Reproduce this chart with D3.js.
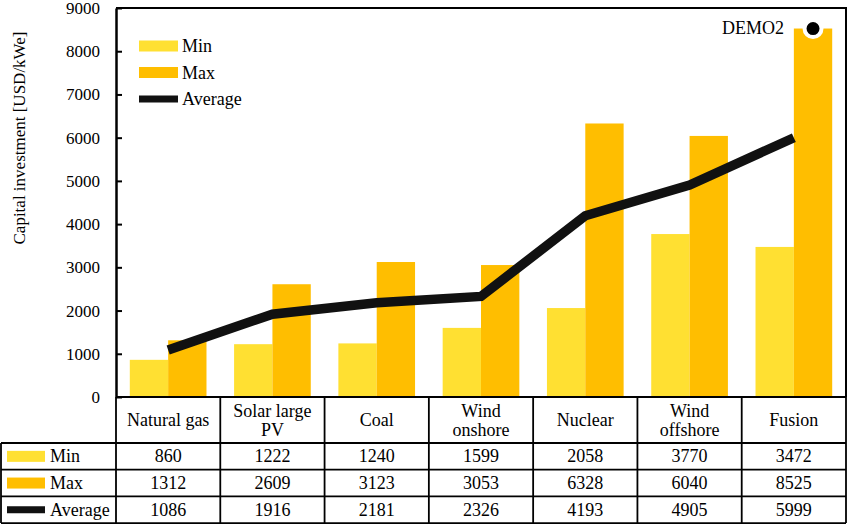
<!DOCTYPE html>
<html>
<head>
<meta charset="utf-8">
<script src="https://cdn.jsdelivr.net/npm/d3@7.9.0/dist/d3.min.js"></script>
<style>
  body { margin: 0; background: #fff; }
  svg { display: block; }
  svg text { font-family: 'Liberation Serif', 'DejaVu Serif', serif; fill: #000; }
</style>
</head>
<body>
<svg id="chart" width="850" height="525"></svg>
<script>
const categories = ['Natural gas', 'Solar large\nPV', 'Coal', 'Wind\nonshore', 'Nuclear', 'Wind\noffshore', 'Fusion'];
const minValues = [860, 1222, 1240, 1599, 2058, 3770, 3472];
const maxValues = [1312, 2609, 3123, 3053, 6328, 6040, 8525];
const avgValues = [1086, 1916, 2181, 2326, 4193, 4905, 5999];
const yTicks = [0, 1000, 2000, 3000, 4000, 5000, 6000, 7000, 8000, 9000];

const colors = { min: '#ffe032', max: '#ffbe00', avg: '#111' };

const svg = d3.select('#chart');
const plotLeft = 116, plotRight = 846, plotTop = 8, plotBottom = 397;
const fs = 18;

const x = d3.scaleBand().domain(d3.range(categories.length)).range([plotLeft, plotRight]);
const xInner = d3.scaleBand().domain(['min', 'max']).range([0, x.bandwidth()]).paddingOuter(0.36);
const y = d3.scaleLinear().domain([0, 9000]).range([plotBottom, plotTop]);

// bars
const groups = svg.append('g').selectAll('g')
  .data(categories.map((c, i) => ({ i, min: minValues[i], max: maxValues[i] })))
  .join('g')
  .attr('transform', (d) => `translate(${x(d.i)},0)`);

groups.selectAll('rect')
  .data((d) => [{ key: 'min', v: d.min }, { key: 'max', v: d.max }])
  .join('rect')
  .attr('x', (d) => xInner(d.key))
  .attr('width', xInner.bandwidth())
  .attr('y', (d) => y(d.v))
  .attr('height', (d) => plotBottom - y(d.v))
  .attr('fill', (d) => colors[d.key]);

// average line
const line = d3.line()
  .x((d, i) => x(i) + x.bandwidth() / 2)
  .y((d) => y(d));

svg.append('path')
  .datum(avgValues)
  .attr('d', line)
  .attr('fill', 'none')
  .attr('stroke', colors.avg)
  .attr('stroke-width', 9.5);

// DEMO2 marker on fusion max
const last = categories.length - 1;
const demoX = x(last) + xInner('max') + xInner.bandwidth() / 2;
svg.append('circle')
  .attr('cx', demoX)
  .attr('cy', y(maxValues[last]))
  .attr('r', 8.5)
  .attr('fill', '#000')
  .attr('stroke', '#fff')
  .attr('stroke-width', 4);

svg.append('text')
  .attr('x', demoX - 29)
  .attr('y', y(maxValues[last]) + 5)
  .attr('text-anchor', 'end')
  .attr('font-size', fs)
  .text('DEMO2');

// y axis
const yAxis = svg.append('g')
  .attr('transform', `translate(${plotLeft},0)`)
  .call(d3.axisLeft(y).tickValues(yTicks).tickFormat(d3.format('d')).tickSize(-6).tickSizeOuter(0).tickPadding(16));
yAxis.attr('font-family', null).attr('font-size', 17);
yAxis.select('.domain').attr('stroke', '#000').attr('stroke-width', 2.5);
yAxis.selectAll('.tick line').attr('stroke', '#000').attr('stroke-width', 2);
yAxis.selectAll('.tick text').attr('fill', '#000');

// frame top and right
svg.append('path')
  .attr('d', `M${plotLeft},${plotTop}H${plotRight}V${plotBottom}`)
  .attr('fill', 'none')
  .attr('stroke', '#000')
  .attr('stroke-width', 2);

svg.append('text')
  .attr('transform', 'translate(25,138) rotate(-90)')
  .attr('text-anchor', 'middle')
  .attr('font-size', 17)
  .text('Capital investment [USD/kWe]');

// legend in plot
const legendItems = [
  { label: 'Min', color: colors.min, h: 11 },
  { label: 'Max', color: colors.max, h: 11 },
  { label: 'Average', color: colors.avg, h: 7 }
];
const legend = svg.append('g').selectAll('g')
  .data(legendItems)
  .join('g')
  .attr('transform', (d, i) => `translate(139,${46 + i * 26.5})`);
legend.append('rect')
  .attr('x', 0).attr('width', 39)
  .attr('y', (d) => -d.h / 2).attr('height', (d) => d.h)
  .attr('fill', (d) => d.color);
legend.append('text')
  .attr('x', 43).attr('y', 6)
  .attr('font-size', fs)
  .text((d) => d.label);

// data table
const headerBottom = 443, rowH = 26.7;
const rows = [
  { label: 'Min', color: colors.min, h: 11, values: minValues },
  { label: 'Max', color: colors.max, h: 11, values: maxValues },
  { label: 'Average', color: colors.avg, h: 7, values: avgValues }
];
const tableBottom = headerBottom + rowH * rows.length;
const table = svg.append('g').attr('stroke', '#000').attr('stroke-width', 1.8);

// horizontal lines
table.append('line').attr('x1', plotLeft).attr('x2', plotRight).attr('y1', plotBottom).attr('y2', plotBottom);
d3.range(rows.length + 1).forEach((r) => {
  table.append('line')
    .attr('x1', 1).attr('x2', plotRight)
    .attr('y1', headerBottom + r * rowH).attr('y2', headerBottom + r * rowH);
});
// vertical lines
table.append('line').attr('x1', 1).attr('x2', 1).attr('y1', headerBottom).attr('y2', tableBottom);
d3.range(categories.length + 1).forEach((c) => {
  const xx = c === categories.length ? plotRight : x(c);
  table.append('line').attr('x1', xx).attr('x2', xx).attr('y1', plotBottom).attr('y2', tableBottom);
});

// header labels
categories.forEach((c, i) => {
  const parts = c.split('\n');
  const cy = (plotBottom + headerBottom) / 2;
  const t = svg.append('text')
    .attr('x', x(i) + x.bandwidth() / 2)
    .attr('text-anchor', 'middle')
    .attr('font-size', fs);
  parts.forEach((p, k) => {
    t.append('tspan')
      .attr('x', x(i) + x.bandwidth() / 2)
      .attr('y', cy + 6 + (k - (parts.length - 1) / 2) * 19)
      .text(p);
  });
});

// rows
rows.forEach((row, r) => {
  const cy = headerBottom + r * rowH + rowH / 2;
  svg.append('rect')
    .attr('x', 7).attr('width', 38)
    .attr('y', cy - row.h / 2).attr('height', row.h)
    .attr('fill', row.color);
  svg.append('text')
    .attr('x', 50).attr('y', cy + 6)
    .attr('font-size', fs)
    .text(row.label);
  row.values.forEach((v, i) => {
    svg.append('text')
      .attr('x', x(i) + x.bandwidth() / 2)
      .attr('y', cy + 6)
      .attr('text-anchor', 'middle')
      .attr('font-size', fs)
      .text(v);
  });
});
</script>
</body>
</html>
